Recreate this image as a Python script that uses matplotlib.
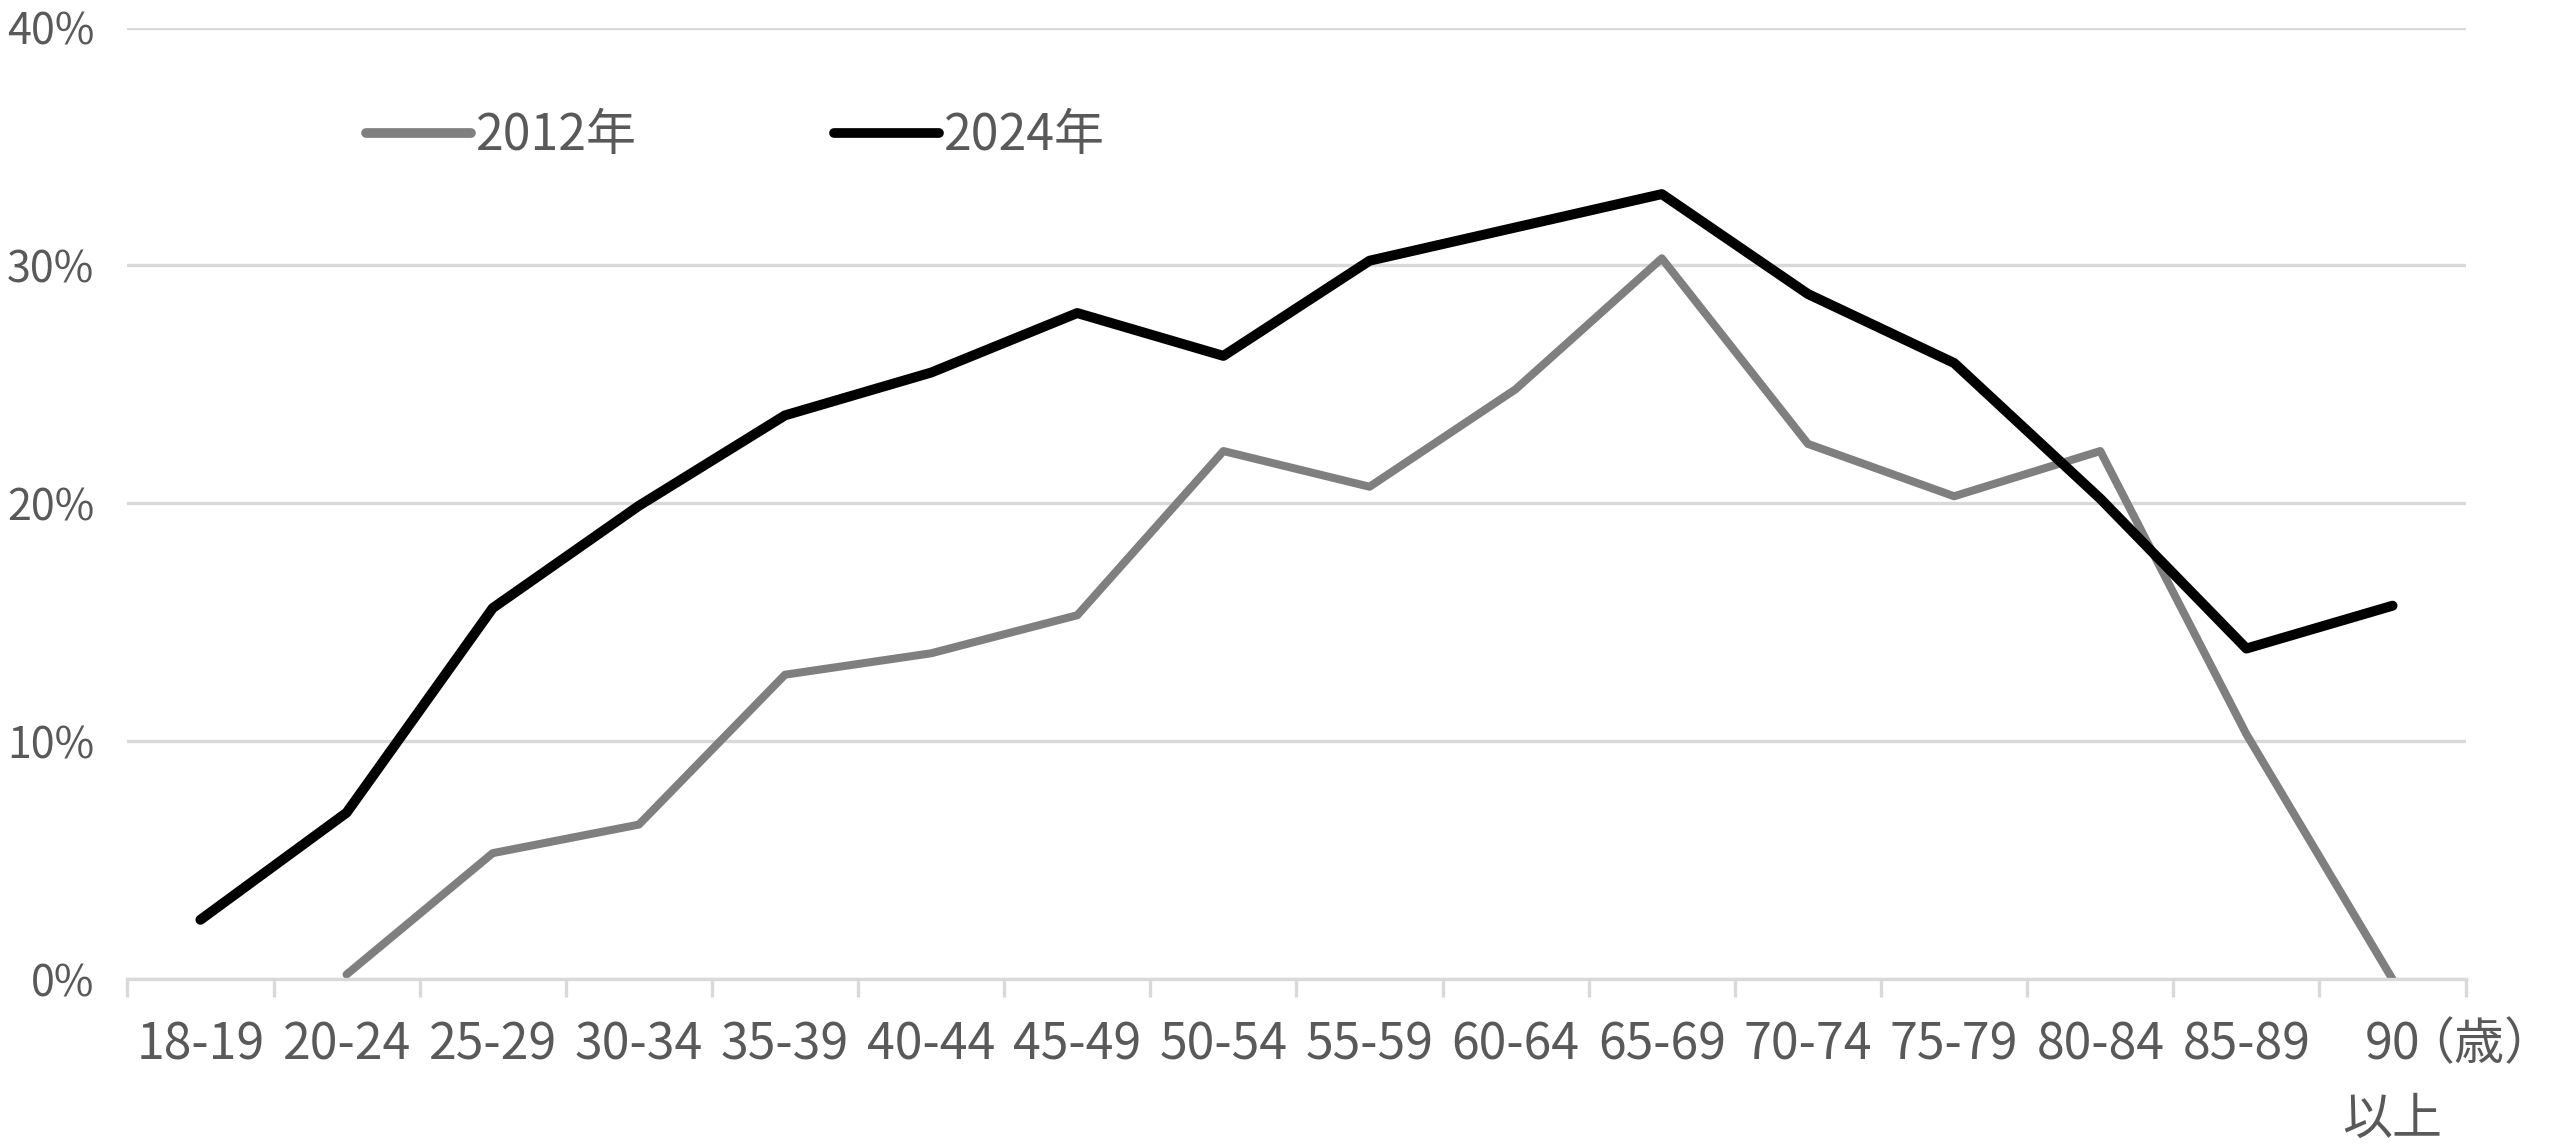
import numpy as np
import matplotlib
matplotlib.use('Agg')
import matplotlib.pyplot as plt
from matplotlib.ticker import PercentFormatter

plt.rcParams['font.family'] = ['Noto Sans CJK JP', 'DejaVu Sans']

# age groups and turnout-style rates (%)
age_groups = ['18-19', '20-24', '25-29', '30-34', '35-39', '40-44', '45-49',
              '50-54', '55-59', '60-64', '65-69', '70-74', '75-79', '80-84',
              '85-89', '90\n以上']
rate_2012 = [np.nan, 0.2, 5.3, 6.5, 12.8, 13.7, 15.3, 22.2, 20.7, 24.8,
             30.3, 22.5, 20.3, 22.2, 10.3, 0.0]
rate_2024 = [2.5, 7.0, 15.6, 19.9, 23.7, 25.5, 28.0, 26.2, 30.2, 31.6,
             33.0, 28.8, 25.9, 20.2, 13.9, 15.7]
series_labels = ['2012年', '2024年']
unit_label = '（歳）'
y_ticks = [0, 10, 20, 30, 40]

text_col = '#595959'
grid_col = '#d9d9d9'
fs = 36

x = np.arange(len(age_groups))

fig, ax = plt.subplots(figsize=(25.63, 11.48), dpi=100)
fig.subplots_adjust(left=0.0497, right=0.962, bottom=0.147, top=0.976)

ax.plot(x, rate_2012, color='#7f7f7f', lw=5.8, label=series_labels[0],
        solid_capstyle='round', solid_joinstyle='round')
ax.plot(x, rate_2024, color='black', lw=7.2, label=series_labels[1],
        solid_capstyle='round', solid_joinstyle='round')

ax.set_xlim(-0.5, len(age_groups) - 0.5)
ax.set_ylim(0, 40)
ax.set_yticks(y_ticks)
ax.yaxis.set_major_formatter(PercentFormatter(decimals=0))
ax.yaxis.grid(True, color=grid_col, lw=2.4)
ax.set_axisbelow(True)

for side in ['top', 'right', 'left']:
    ax.spines[side].set_visible(False)
ax.spines['bottom'].set_color(grid_col)
ax.spines['bottom'].set_linewidth(2.4)

ax.set_xticks(x)
ax.set_xticklabels(age_groups)
ax.set_xticks(np.arange(-0.5, len(age_groups)), minor=True)
ax.tick_params(axis='x', which='major', length=0, pad=29,
               labelsize=fs, labelcolor=text_col)
ax.tick_params(axis='x', which='minor', length=13, width=2.4, color=grid_col)
ax.tick_params(axis='y', length=0, pad=24, labelsize=31, labelcolor=text_col)
for lab in ax.get_xticklabels():
    lab.set_linespacing(1.55)

ax.annotate(unit_label, xy=(15.08, 0), xycoords=('data', 'axes fraction'),
            xytext=(0, -29), textcoords='offset points',
            ha='left', va='top', fontsize=fs, color=text_col)

leg = ax.legend(loc='center left', bbox_to_anchor=(0.102, 0.886), ncol=2,
                frameon=False, fontsize=fs, handlelength=2.1,
                handletextpad=0.1, columnspacing=3.95, borderpad=0,
                borderaxespad=0, labelcolor=text_col)
for h in leg.get_lines():
    h.set_linewidth(7)
    h.set_solid_capstyle('round')

fig.savefig('out.png', dpi=100)
